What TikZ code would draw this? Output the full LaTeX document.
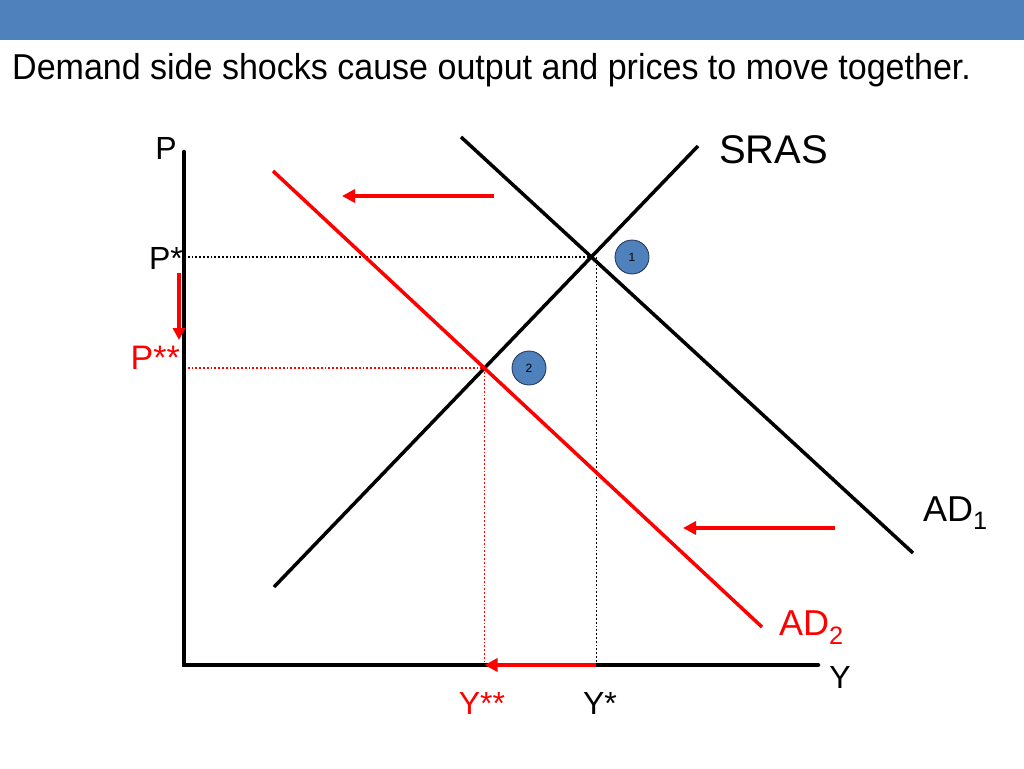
\documentclass[tikz,border=0pt]{standalone}
\usepackage{fontspec}
\setmainfont{Liberation Sans}
\usetikzlibrary{arrows.meta}
\definecolor{hdr}{HTML}{4F81BD}
\definecolor{rd}{HTML}{FF0000}
\definecolor{cborder}{HTML}{1F2F4F}
\tikzset{
  axis/.style={line width=4.5pt,black},
  curve/.style={line width=3.5pt},
  guide/.style={line width=1.8pt,dotted},
  movearrow/.style={line width=4pt,rd,-{Triangle[length=13pt,width=13pt]}},
  marker/.style={circle,fill=hdr,draw=cborder,line width=0.8pt,minimum size=34pt,inner sep=0pt,font=\fontsize{12}{14}\selectfont},
  lbl/.style={font=\fontsize{32}{36}\selectfont,inner sep=0pt},
}
\begin{document}
\begin{tikzpicture}[x=1pt,y=-1pt]
\useasboundingbox (0,0) rectangle (1024,768);
\fill[hdr] (0,0) rectangle (1024,40);
\node[anchor=west,inner sep=0pt,font=\fontsize{36}{40}\selectfont] (title) at (12,70) {\scalebox{0.945}[1]{Demand side shocks cause output and prices to move together.}};

% curves
\coordinate (s1) at (274,587); \coordinate (s2) at (698,146);
\coordinate (a1) at (461,137); \coordinate (a2) at (913,553);
\coordinate (b1) at (273,171); \coordinate (b2) at (762,627);
\coordinate (o) at (184,665);
\coordinate (E1) at (intersection of s1--s2 and a1--a2);
\coordinate (E2) at (intersection of s1--s2 and b1--b2);
\coordinate (E1v) at ([xshift=5pt]E1);
\coordinate (P1) at (o |- E1); \coordinate (Y1) at (E1v |- o);
\coordinate (P2) at (o |- E2); \coordinate (Y2) at (E2 |- o);

% guides
\draw[guide] (P1) -- (E1);
\draw[guide] (E1v) -- (Y1);
\draw[guide,rd] (P2) -- (E2) -- (Y2);

\draw[curve] (s1) -- (s2);
\draw[curve] (a1) -- (a2);
\draw[curve,rd] (b1) -- (b2);

% axes
\coordinate (ytop) at (184,152); \coordinate (xend) at (818,665);
\draw[axis,line cap=round] (ytop) -- (o) -- (xend);

% shift arrows
\coordinate (t1) at (494,196); \coordinate (t2) at (342,196);
\coordinate (r1) at (835,528); \coordinate (r2) at (683,528);
\coordinate (v1) at (179,273); \coordinate (v2) at (179,340);
\draw[movearrow] (t1) -- (t2);
\draw[movearrow] (r1) -- (r2);
\draw[movearrow] (Y1) -- (Y2);
\draw[movearrow,line width=3.5pt,-{Triangle[length=12pt,width=12pt]}] (v1) -- (v2);

% markers
\node[marker] (m1) at (632,257) {1};
\node[marker] (m2) at (529,368) {2};

% labels
\node[lbl] (lP) at (166,148) {P};
\node[lbl,anchor=east] (lPs) at (183,258) {P*};
\node[lbl,anchor=east,text=rd,font=\fontsize{34}{38}\selectfont] (lPss) at (180,358) {P**};
\node[lbl,text=rd] (lYss) at (482,703) {Y**};
\node[lbl] (lYs) at (600,703) {Y*};
\node[lbl] (lY) at (840,677) {Y};
\node[lbl,anchor=west,font=\fontsize{40}{44}\selectfont] (lS) at (719,150) {SRAS};
\node[lbl,anchor=west,font=\fontsize{36}{40}\selectfont] (lA1) at (923,513) {AD\textsubscript{1}};
\node[lbl,anchor=west,text=rd,font=\fontsize{36}{40}\selectfont] (lA2) at (779,628) {AD\textsubscript{2}};
\end{tikzpicture}
\end{document}
